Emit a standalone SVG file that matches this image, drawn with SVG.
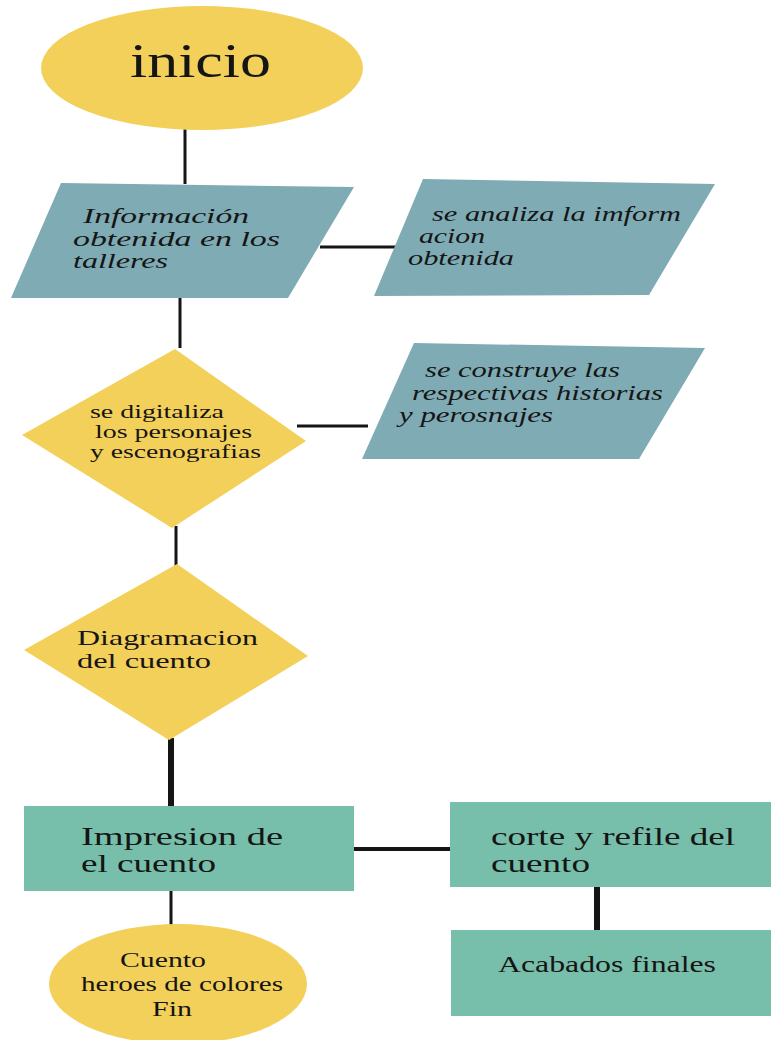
<svg xmlns="http://www.w3.org/2000/svg" width="771" height="1040" viewBox="0 0 771 1040">
<style>
.y{fill:#F3D05A}
.b{fill:#7FABB4}
.g{fill:#77BFAA}
.c{stroke:#151515;fill:none;stroke-linecap:butt}
text{font-family:"Liberation Serif","DejaVu Serif",serif;fill:#151515}
.it{font-style:italic}
</style>
<rect width="771" height="1040" fill="#ffffff"/>
<g id="connectors">
<line class="c" x1="185" y1="128" x2="185" y2="184" stroke-width="3"/>
<line class="c" x1="180" y1="296" x2="180" y2="348" stroke-width="3"/>
<line class="c" x1="320" y1="247" x2="398" y2="247" stroke-width="3"/>
<line class="c" x1="297" y1="426" x2="368" y2="426" stroke-width="3"/>
<line class="c" x1="176" y1="526" x2="176" y2="566" stroke-width="3"/>
<line class="c" x1="171" y1="738" x2="171" y2="807" stroke-width="6"/>
<line class="c" x1="352" y1="849" x2="460" y2="849" stroke-width="4"/>
<line class="c" x1="171" y1="888" x2="171" y2="928" stroke-width="3"/>
<line class="c" x1="597" y1="885" x2="597" y2="932" stroke-width="6"/>
</g>
<g id="inicio">
<ellipse class="y" cx="202" cy="68" rx="161" ry="62"/>
<text x="130" y="77" font-size="49" textLength="141" lengthAdjust="spacingAndGlyphs">inicio</text>
</g>
<g id="informacion">
<polygon class="b" points="61,183 354,187 288,298 11,298"/>
<text class="it" font-size="20" x="83" y="223" textLength="166" lengthAdjust="spacingAndGlyphs">Información</text>
<text class="it" font-size="20" x="73" y="246" textLength="207" lengthAdjust="spacingAndGlyphs">obtenida en los</text>
<text class="it" font-size="20" x="73" y="268" textLength="95" lengthAdjust="spacingAndGlyphs">talleres</text>
</g>
<g id="analiza">
<polygon class="b" points="423,179 715,184 649,295 374,296"/>
<text class="it" font-size="20" x="432" y="221" textLength="249" lengthAdjust="spacingAndGlyphs">se analiza la imform</text>
<text class="it" font-size="20" x="419" y="243" textLength="66" lengthAdjust="spacingAndGlyphs">acion</text>
<text class="it" font-size="20" x="408" y="265" textLength="106" lengthAdjust="spacingAndGlyphs">obtenida</text>
</g>
<g id="digitaliza">
<polygon class="y" points="175,349 306,441 172,528 22,435"/>
<text font-size="19" x="90" y="418" textLength="134" lengthAdjust="spacingAndGlyphs">se digitaliza</text>
<text font-size="19" x="95" y="438" textLength="157" lengthAdjust="spacingAndGlyphs">los personajes</text>
<text font-size="19" x="90" y="458" textLength="171" lengthAdjust="spacingAndGlyphs">y escenografias</text>
</g>
<g id="construye">
<polygon class="b" points="414,343 705,348 639,459 362,459"/>
<text class="it" font-size="20" x="425" y="377" textLength="195" lengthAdjust="spacingAndGlyphs">se construye las</text>
<text class="it" font-size="20" x="412" y="400" textLength="251" lengthAdjust="spacingAndGlyphs">respectivas historias</text>
<text class="it" font-size="20" x="399" y="422" textLength="154" lengthAdjust="spacingAndGlyphs">y perosnajes</text>
</g>
<g id="diagramacion">
<polygon class="y" points="177,564 308,656 169,740 24,650"/>
<text font-size="21" x="77" y="645" textLength="181" lengthAdjust="spacingAndGlyphs">Diagramacion</text>
<text font-size="21" x="77" y="668" textLength="134" lengthAdjust="spacingAndGlyphs">del cuento</text>
</g>
<g id="impresion">
<rect class="g" x="24" y="806" width="330" height="85"/>
<text font-size="25" x="81" y="845" textLength="202" lengthAdjust="spacingAndGlyphs">Impresion de</text>
<text font-size="25" x="81" y="872" textLength="135" lengthAdjust="spacingAndGlyphs">el cuento</text>
</g>
<g id="corte">
<rect class="g" x="450" y="802" width="321" height="85"/>
<text font-size="25" x="491" y="845" textLength="244" lengthAdjust="spacingAndGlyphs">corte y refile del</text>
<text font-size="25" x="491" y="872" textLength="99" lengthAdjust="spacingAndGlyphs">cuento</text>
</g>
<g id="acabados">
<rect class="g" x="451" y="930" width="320" height="86"/>
<text font-size="24" x="498" y="972" textLength="218" lengthAdjust="spacingAndGlyphs">Acabados finales</text>
</g>
<g id="fin">
<ellipse class="y" cx="178" cy="984" rx="129" ry="60"/>
<text font-size="20" x="120" y="967" textLength="86" lengthAdjust="spacingAndGlyphs">Cuento</text>
<text font-size="20" x="81" y="991" textLength="202" lengthAdjust="spacingAndGlyphs">heroes de colores</text>
<text font-size="20" x="152" y="1016" textLength="40" lengthAdjust="spacingAndGlyphs">Fin</text>
</g>
</svg>
